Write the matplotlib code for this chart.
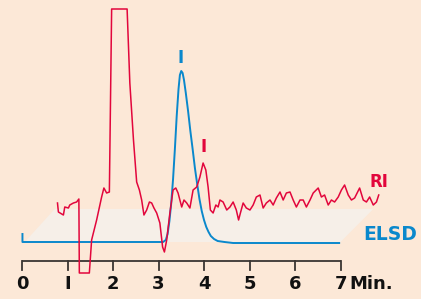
import matplotlib
matplotlib.use("Agg")
import matplotlib.pyplot as plt
from matplotlib.patches import Polygon

# RI trace (time in min, detector response)
ri_time = [0.78, 0.80, 0.91, 0.94, 1.02, 1.05, 1.13, 1.20, 1.25, 1.26, 1.48, 1.53,
           1.64, 1.75, 1.80, 1.86, 1.92, 1.97, 2.31, 2.37, 2.45, 2.52, 2.58, 2.63,
           2.68, 2.74, 2.80, 2.85, 2.90, 2.96, 3.03, 3.09, 3.13, 3.18, 3.25, 3.32,
           3.38, 3.43, 3.51, 3.56, 3.62, 3.69, 3.76, 3.84, 3.91, 3.98, 4.04, 4.09,
           4.14, 4.20, 4.26, 4.31, 4.35, 4.42, 4.50, 4.57, 4.64, 4.71, 4.76, 4.80,
           4.86, 4.93, 5.01, 5.08, 5.15, 5.23, 5.30, 5.37, 5.45, 5.52, 5.59, 5.67,
           5.74, 5.81, 5.89, 5.96, 6.03, 6.11, 6.18, 6.25, 6.33, 6.40, 6.51, 6.58,
           6.65, 6.73, 6.80, 6.87, 6.95, 7.02, 7.09, 7.17, 7.24, 7.31, 7.42, 7.50,
           7.57, 7.64, 7.72, 7.79, 7.84]
ri_signal = [58, 49, 46, 54, 53, 56, 58, 59, 62, -12, -12, 21,
             41, 64, 73, 68, 69, 252, 252, 178, 121, 79, 71, 61,
             46, 51, 59, 58, 53, 48, 38, 14, 9, 21, 48, 71,
             73, 68, 54, 61, 58, 53, 71, 74, 84, 98, 91, 74,
             51, 48, 56, 54, 61, 59, 51, 54, 59, 51, 41, 48,
             58, 53, 51, 56, 64, 66, 53, 58, 61, 56, 63, 69,
             61, 68, 69, 61, 54, 61, 61, 54, 61, 68, 73, 64,
             66, 56, 61, 59, 64, 71, 76, 66, 61, 63, 73, 61,
             59, 64, 56, 59, 66]

# ELSD trace
elsd_time = [0.01, 0.01, 3.10, 3.16, 3.20, 3.24, 3.28, 3.32, 3.36, 3.40, 3.44, 3.47,
             3.50, 3.53, 3.56, 3.60, 3.65, 3.70, 3.75, 3.80, 3.85, 3.90, 3.95, 4.00,
             4.05, 4.10, 4.15, 4.22, 4.30, 4.45, 4.64, 6.97]
elsd_signal = [27, 19, 19, 21, 27, 40, 58, 82, 112, 145, 172, 186,
               190, 188, 181, 168, 150, 130, 112, 93, 77, 62, 50, 41,
               34, 29, 25, 22, 20, 19, 18, 18]

tick_pos = [0, 1, 2, 3, 4, 5, 6, 7]
tick_labels = ["0", "I", "2", "3", "4", "5", "6", "7"]

bg = "#fce8d7"
red = "#e2063c"
blue = "#0a88cc"

fig = plt.figure(figsize=(4.21, 2.99), dpi=100, facecolor=bg)
ax = fig.add_axes([0, 0, 1, 1])
ax.set_facecolor(bg)
ax.set_xlim(-0.4835, 8.769)
ax.set_ylim(-38, 261)
ax.axis("off")

# light plane under the traces
plane = Polygon([(0.06, 19), (0.72, 52), (7.72, 52), (7.0, 19)],
                closed=True, facecolor="#f6efe8", edgecolor="none", zorder=1)
ax.add_patch(plane)

# time axis
ax.plot([0, 7], [0, 0], color="#3a3532", lw=1.3, zorder=2, solid_capstyle="butt")
for t, lab in zip(tick_pos, tick_labels):
    ax.plot([t, t], [0, -8.5], color="#3a3532", lw=1.3, zorder=2)
    ax.text(t, -23, lab, ha="center", va="center", fontsize=13,
            fontweight="bold", color="#111111", family="DejaVu Sans")
ax.text(7.2, -23, "Min.", ha="left", va="center", fontsize=13,
        fontweight="bold", color="#111111", family="DejaVu Sans")

ax.plot(elsd_time, elsd_signal, color=blue, lw=1.4, zorder=3)
ax.plot(ri_time, ri_signal, color=red, lw=1.1, zorder=4)

# peak markers and trace labels
ax.text(3.49, 203, "I", ha="center", va="center", fontsize=12,
        fontweight="bold", color=blue)
ax.text(4.0, 114, "I", ha="center", va="center", fontsize=12,
        fontweight="bold", color=red)
ax.text(7.64, 79, "RI", ha="left", va="center", fontsize=12,
        fontweight="bold", color=red)
ax.text(7.5, 27, "ELSD", ha="left", va="center", fontsize=13.5,
        fontweight="bold", color=blue)

fig.savefig("out.png", dpi=100, facecolor=bg)
